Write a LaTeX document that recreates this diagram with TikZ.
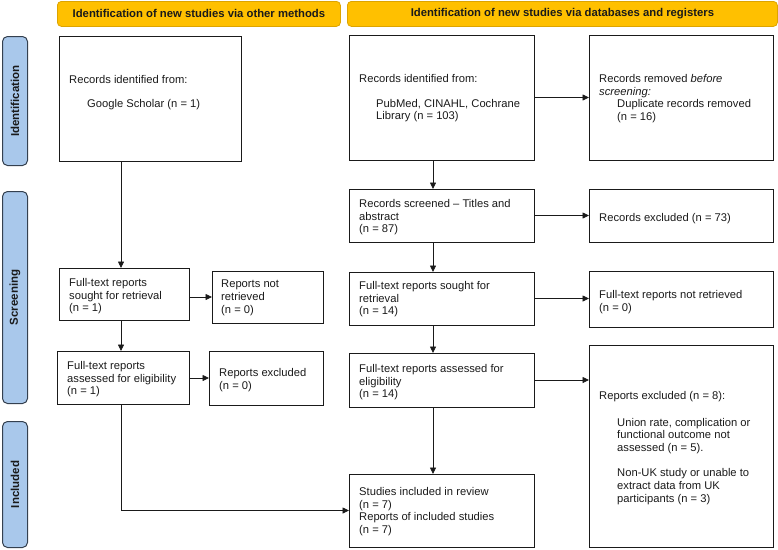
\documentclass[tikz,border=0pt]{standalone}
\usepackage{fontspec}
\setmainfont{Liberation Sans}
\usetikzlibrary{arrows.meta,calc}
\definecolor{hdrfill}{HTML}{FFC000}
\definecolor{hdrdraw}{HTML}{DDA400}
\definecolor{sidefill}{HTML}{A9C8EB}
\definecolor{sidedraw}{HTML}{34404F}
\definecolor{ink}{HTML}{1A1A1A}
\tikzset{
  box/.style={draw=ink, line width=0.8pt, anchor=north west, inner sep=0pt, outer sep=0pt},
  txt/.style={anchor=north west, align=left, inner sep=0pt, text=ink, font=\fontsize{11.2}{12.8}\selectfont},
  hdr/.style={draw=hdrdraw, fill=hdrfill, line width=0.8pt, rounded corners=4pt, anchor=north west, inner sep=0pt, font=\bfseries\fontsize{11.3}{13}\selectfont, text=ink},
  side/.style={draw=sidedraw, fill=sidefill, line width=1pt, rounded corners=5pt, anchor=north west, inner sep=0pt},
  sidetxt/.style={rotate=90, font=\bfseries\fontsize{11.5}{13}\selectfont, text=ink},
  arr/.style={draw=ink, line width=0.8pt, -{Triangle[length=6.5pt,width=6pt]}}
}
\begin{document}
\begin{tikzpicture}[x=1pt,y=-1pt]
\useasboundingbox (0,0) rectangle (778,549);
% headers
\node[hdr, minimum width=283pt, minimum height=25pt] (hL) at (57,1) {Identification of new studies via other methods};
\node[hdr, minimum width=430pt, minimum height=25pt] (hR) at (347,1) {Identification of new studies via databases and registers};
% side bars
\node[side, minimum width=25pt, minimum height=129pt] (sId) at (2,36) {};
\node[sidetxt] (tId) at (sId.center) {Identification};
\node[side, minimum width=25pt, minimum height=212pt] (sSc) at (2,191) {};
\node[sidetxt] (tSc) at (sSc.center) {Screening};
\node[side, minimum width=25pt, minimum height=126pt] (sIn) at (2,421) {};
\node[sidetxt] (tIn) at (sIn.center) {Included};
% boxes
\node[box, minimum width=182pt, minimum height=125pt] (google) at (59,36) {};
\node[box, minimum width=185pt, minimum height=125pt] (db) at (349,35) {};
\node[box, minimum width=184pt, minimum height=125pt] (removed) at (589,35) {};
\node[box, minimum width=185pt, minimum height=53pt] (screened) at (349,189) {};
\node[box, minimum width=184pt, minimum height=53pt] (excl) at (589,189) {};
\node[box, minimum width=185pt, minimum height=53pt] (soughtR) at (349,272) {};
\node[box, minimum width=184pt, minimum height=56pt] (notretR) at (589,271) {};
\node[box, minimum width=185pt, minimum height=54pt] (assessedR) at (349,353) {};
\node[box, minimum width=184pt, minimum height=202pt] (exclR) at (589,345) {};
\node[box, minimum width=185pt, minimum height=73pt] (incl) at (349,474) {};
\node[box, minimum width=130pt, minimum height=52pt] (soughtL) at (59,268) {};
\node[box, minimum width=111pt, minimum height=52pt] (notretL) at (212,271) {};
\node[box, minimum width=132pt, minimum height=53pt] (assessedL) at (57,351) {};
\node[box, minimum width=114pt, minimum height=54pt] (exclL) at (209,351) {};
% texts
\node[txt] (tgoogle) at (69,75) {Records identified from:\\[11pt]\hspace*{18pt}Google Scholar (n = 1)};
\node[txt] (tdb) at (359,74) {Records identified from:\\[12pt]\hspace*{17pt}PubMed, CINAHL, Cochrane\\\hspace*{17pt}Library (n = 103)};
\node[txt] (tremoved) at (599,74) {Records removed \textit{before}\\\textit{screening:}\\\hspace*{18pt}Duplicate records removed\\\hspace*{18pt}(n = 16)};
\node[txt] (tscreened) at (359,199) {Records screened -- Titles and\\abstract\\(n = 87)};
\node[txt] (texcl) at (599,213) {Records excluded (n = 73)};
\node[txt] (tsoughtR) at (359,281) {Full-text reports sought for\\retrieval\\(n = 14)};
\node[txt] (tnotretR) at (599,290) {Full-text reports not retrieved\\(n = 0)};
\node[txt] (tassessedR) at (359,364) {Full-text reports assessed for\\eligibility\\(n = 14)};
\node[txt] (texclR) at (599,391) {Reports excluded (n = 8):\\[14pt]\hspace*{18pt}Union rate, complication or\\\hspace*{18pt}functional outcome not\\\hspace*{18pt}assessed (n = 5).\\[12pt]\hspace*{18pt}Non-UK study or unable to\\\hspace*{18pt}extract data from UK\\\hspace*{18pt}participants (n = 3)};
\node[txt] (tincl) at (359,487) {Studies included in review\\(n = 7)\\Reports of included studies\\(n = 7)};
\node[txt] (tsoughtL) at (69,278) {Full-text reports\\sought for retrieval\\(n = 1)};
\node[txt] (tnotretL) at (221,280) {Reports not\\retrieved\\(n = 0)};
\node[txt] (tassessedL) at (67,361) {Full-text reports\\assessed for eligibility\\(n = 1)};
\node[txt] (texclL) at (219,368) {Reports excluded\\(n = 0)};
% column coordinates
\coordinate (colL) at (121,0);
\coordinate (colR) at (433,0);
% connectors
\draw[arr] (google.south -| colL) -- (soughtL.north -| colL);
\draw[arr] (soughtL.south -| colL) -- (assessedL.north -| colL);
\draw[arr] (soughtL.east |- notretL.west) -- (notretL.west);
\draw[arr] (assessedL.east |- exclL.west) -- (exclL.west);
\draw[arr] (assessedL.south -| colL) |- (incl.west);
\draw[arr] (db.south -| colR) -- (screened.north -| colR);
\draw[arr] (screened.south -| colR) -- (soughtR.north -| colR);
\draw[arr] (soughtR.south -| colR) -- (assessedR.north -| colR);
\draw[arr] (assessedR.south -| colR) -- (incl.north -| colR);
\draw[arr] (db.east) -- (removed.west |- db.east);
\draw[arr] (screened.east) -- (excl.west |- screened.east);
\draw[arr] (soughtR.east) -- (notretR.west |- soughtR.east);
\draw[arr] (assessedR.east) -- (exclR.west |- assessedR.east);
\end{tikzpicture}
\end{document}
